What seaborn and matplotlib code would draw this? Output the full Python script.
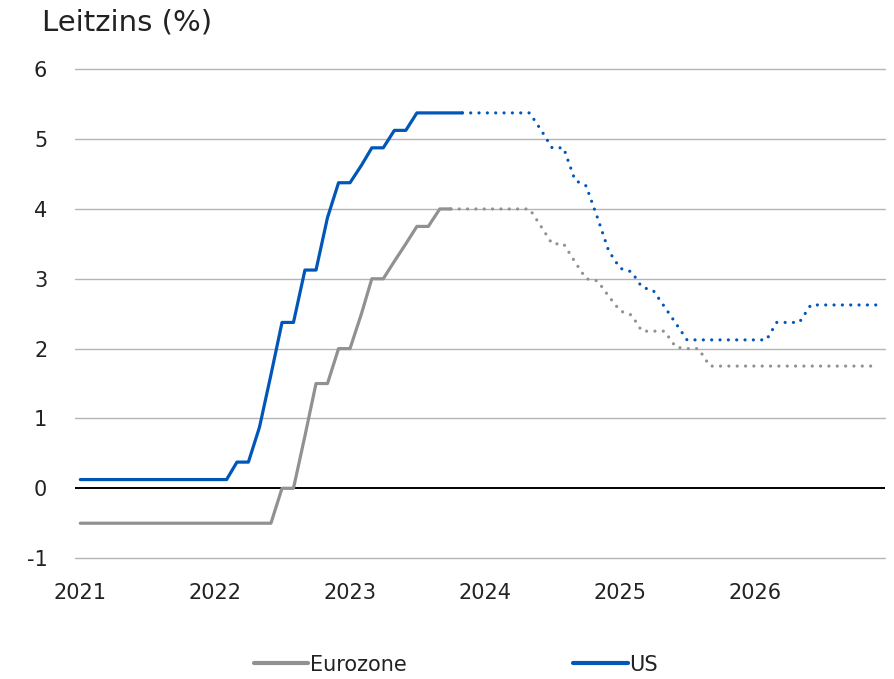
import pandas as pd
import seaborn as sns
import matplotlib.pyplot as plt
import matplotlib.dates as mdates
from matplotlib.lines import Line2D

# monthly key rates, Jan 2021 - Dec 2026 (actual up to late 2023, then forecast)
months = pd.date_range("2021-01-01", "2026-12-01", freq="MS")

ez_rate = ([-0.5] * 18
           + [0.0, 0.0, 0.75, 1.5, 1.5, 2.0, 2.0, 2.5, 3.0, 3.0, 3.25, 3.5, 3.75, 3.75, 4.0, 4.0]
           + [4.0] * 7
           + [3.75, 3.5, 3.5, 3.24, 3.0, 2.97, 2.75, 2.54, 2.48, 2.25, 2.25, 2.25, 2.02, 2.0, 2.0]
           + [1.75] * 16)

us_rate = ([0.125] * 14
           + [0.375, 0.375, 0.875, 1.625, 2.375, 2.375, 3.125, 3.125, 3.875, 4.375, 4.375,
              4.625, 4.875, 4.875, 5.125, 5.125]
           + [5.375] * 11
           + [5.13, 4.875, 4.875, 4.41, 4.33, 3.87, 3.40, 3.15, 3.10, 2.88, 2.83, 2.60, 2.36]
           + [2.125] * 8
           + [2.375] * 3
           + [2.625] * 7)

ez_last_actual = 33   # index of last actual month
us_last_actual = 34

series = ["Eurozone", "US"]
colors = {"Eurozone": "#919191", "US": "#0057b8"}
y_ticks = [-1, 0, 1, 2, 3, 4, 5, 6]

df = pd.concat([
    pd.DataFrame({"date": months, "rate": ez_rate, "region": "Eurozone",
                  "idx": range(len(months)), "last": ez_last_actual}),
    pd.DataFrame({"date": months, "rate": us_rate, "region": "US",
                  "idx": range(len(months)), "last": us_last_actual}),
])

sns.set_style("white")
plt.rcParams["font.family"] = ["DejaVu Sans"]

fig = plt.figure(figsize=(8.94, 6.79), dpi=100)
ax = fig.add_axes([0.084, 0.178, 0.906, 0.72])

for reg in series:
    d = df[df["region"] == reg]
    actual = d[d["idx"] <= d["last"]]
    fcst = d[d["idx"] >= d["last"]]
    sns.lineplot(data=fcst, x="date", y="rate", ax=ax, color=colors[reg], linewidth=2.3,
                 linestyle=(0, (0.01, 2.6)), dash_capstyle="round", errorbar=None)
    sns.lineplot(data=actual, x="date", y="rate", ax=ax, color=colors[reg], linewidth=2.3,
                 solid_capstyle="round", errorbar=None)

# grid + zero line
for y in y_ticks:
    if y == 0:
        ax.axhline(0, color="black", linewidth=1.4, zorder=1)
    else:
        ax.axhline(y, color="#b4b4b4", linewidth=1.0, zorder=0, clip_on=False)

ax.set_ylim(-1, 6)
ax.set_yticks(y_ticks)
ax.set_yticklabels([str(v) for v in y_ticks])
ax.set_xlim(pd.Timestamp("2020-12-18"), pd.Timestamp("2026-12-19"))
ax.xaxis.set_major_locator(mdates.YearLocator())
ax.xaxis.set_major_formatter(mdates.DateFormatter("%Y"))
ax.tick_params(axis="both", length=0, labelsize=15, colors="#222222")
ax.tick_params(axis="y", pad=20)
ax.tick_params(axis="x", pad=18)
ax.set_xlabel("")
ax.set_ylabel("")
sns.despine(ax=ax, left=True, bottom=True)

fig.text(0.047, 0.967, "Leitzins (%)", fontsize=21, ha="left", va="center", color="#222222")

handles = [Line2D([], [], color=colors[s], linewidth=3) for s in series]
fig.legend(handles, series, loc="center", bbox_to_anchor=(0.51, 0.021), ncol=2,
           frameon=False, fontsize=15, handlelength=2.6, handletextpad=0.1,
           columnspacing=8.0, labelcolor="#222222")

fig.savefig("out.png", dpi=100)
